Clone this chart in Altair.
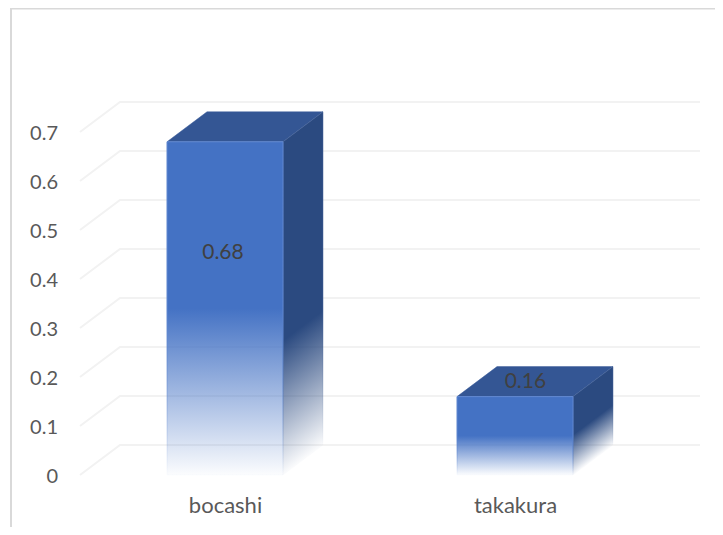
import altair as alt
import pandas as pd

categories = ["bocashi", "takakura"]
values = [0.68, 0.16]
label_levels = [0.453, 0.19]
label_slots = [0.493, 1.536]
y_ticks = [0, 0.1, 0.2, 0.3, 0.4, 0.5, 0.6, 0.7]

W, H = 707, 519
FONT = "Lato"
DX = 40 / 290      # depth of the 3D box in category units
DV = 30 / 490      # depth of the 3D box in value units
GAP = 0.3          # space on either side of a bar, in category units

x_scale = alt.Scale(domain=[0, 2], range=[72, 652], nice=False, zero=False)
y_scale = alt.Scale(domain=[0, 0.7], range=[467, 124], nice=False, zero=False)
X = lambda **k: alt.X("x:Q", scale=x_scale, **k)
Y = lambda **k: alt.Y("y:Q", scale=y_scale, **k)


def stops(rgb, solid):
    return [
        alt.GradientStop(offset=0, color=f"rgba({rgb},1)"),
        alt.GradientStop(offset=solid, color=f"rgba({rgb},1)"),
        alt.GradientStop(offset=1, color=f"rgba({rgb},0.02)"),
    ]


def down(rgb, solid):
    return alt.Gradient(gradient="linear", x1=0, y1=0, x2=0, y2=1, stops=stops(rgb, solid))


def skew(rgb, solid, d):
    L = 1 / (1 + d * d)
    return alt.Gradient(gradient="linear", x1=0, y1=0, x2=d * L, y2=L, stops=stops(rgb, solid))


layers = []

# wall and floor grid
grid_rows = []
for t in y_ticks:
    grid_rows += [
        {"t": t, "o": 0, "x": 0, "y": t},
        {"t": t, "o": 1, "x": DX, "y": t + DV},
        {"t": t, "o": 2, "x": 2 + DX, "y": t + DV},
    ]
layers.append(
    alt.Chart(pd.DataFrame(grid_rows))
    .mark_line(color="#f2f2f2", strokeWidth=2)
    .encode(
        x=X(
            title=None,
            axis=alt.Axis(
                values=[0.5, 1.5],
                labelExpr=f"{categories}[floor(datum.value)]",
                domain=False,
                ticks=False,
                grid=False,
                labelPadding=0,
                offset=-32,
                labelFont=FONT,
                labelFontSize=22,
                labelColor="#595959",
            ),
        ),
        y=Y(
            title=None,
            axis=alt.Axis(
                values=y_ticks,
                format=".1~f",
                domain=False,
                ticks=False,
                grid=False,
                labelPadding=0,
                labelOffset=1.5,
                offset=-49.5,
                labelFont=FONT,
                labelFontSize=20,
                labelColor="#595959",
            ),
        ),
        detail="t:N",
        order="o:Q",
    )
)

# 3D boxes
for i, v in enumerate(values):
    x0, x1 = i + GAP, i + 1 - GAP
    top = pd.DataFrame(
        [
            {"x": x0, "y": v + 0, "y2": v},
            {"x": x0 + DX, "y": v + DV, "y2": v},
            {"x": x1, "y": v + DV, "y2": v},
            {"x": x1 + DX, "y": v + DV, "y2": v + DV},
        ]
    )
    layers.append(
        alt.Chart(top)
        .mark_area(color="#345694", stroke="#3a5c9a", strokeWidth=0.5)
        .encode(x=X(), y=Y(), y2="y2:Q")
    )
    side = pd.DataFrame(
        [
            {"x": x1, "y": v, "y2": 0},
            {"x": x1 + DX, "y": v + DV, "y2": DV},
        ]
    )
    d = DV / (v + DV)
    layers.append(
        alt.Chart(side)
        .mark_area(
            fill=skew("43,74,128", 0.63, d),
            stroke=skew("70,100,155", 0.63, d),
            strokeWidth=0.5,
        )
        .encode(x=X(), y=Y(), y2="y2:Q")
    )
    front = pd.DataFrame([{"x": x0, "x2": x1, "y": v, "y2": 0}])
    layers.append(
        alt.Chart(front)
        .mark_rect(
            fill=down("68,114,196", 0.5),
            stroke=down("95,135,208", 0.5),
            strokeWidth=1,
        )
        .encode(x=X(), x2="x2:Q", y=Y(), y2="y2:Q")
    )

# data labels
labels = pd.DataFrame(
    {
        "x": label_slots,
        "y": label_levels,
        "t": [f"{v:.2f}" for v in values],
    }
)
layers.append(
    alt.Chart(labels)
    .mark_text(font=FONT, fontSize=21, color="#404040", align="center", baseline="middle")
    .encode(x=X(), y=Y(), text="t:N")
)

# chart-area border
layers.append(
    alt.Chart(pd.DataFrame({"a": [0]}))
    .mark_rule(color="#d9d9d9", strokeWidth=2)
    .encode(x=alt.value(3), y=alt.value(0), y2=alt.value(H))
)
layers.append(
    alt.Chart(pd.DataFrame({"a": [0]}))
    .mark_rule(color="#d9d9d9", strokeWidth=2)
    .encode(x=alt.value(3), x2=alt.value(W), y=alt.value(0.5))
)

chart = (
    alt.layer(*layers)
    .properties(width=W, height=H, padding=0, autosize=alt.AutoSizeParams(type="none"), background="white")
    .configure_view(stroke=None)
)

chart.save("out.html", embed_options={"renderer": "svg", "actions": False})
